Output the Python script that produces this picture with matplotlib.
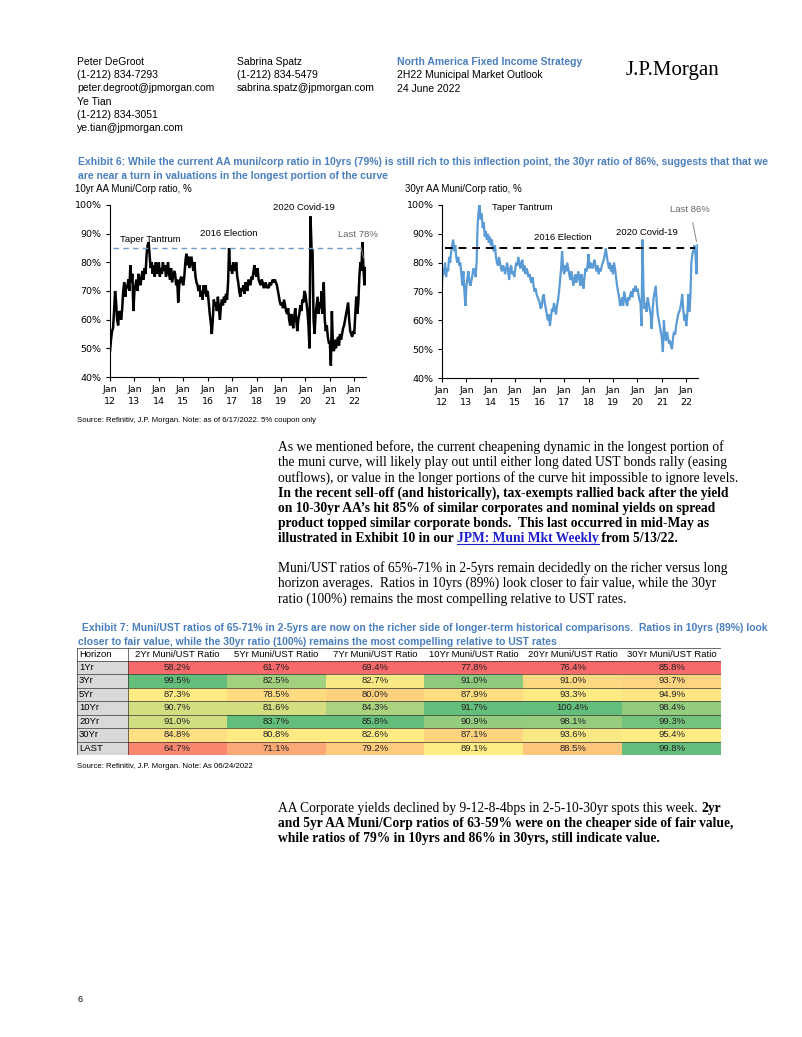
import numpy as np
import matplotlib
matplotlib.use('Agg')
import matplotlib.pyplot as plt
from matplotlib.colors import LinearSegmentedColormap, TwoSlopeNorm
from matplotlib.patches import Rectangle

W, H = 802, 1037

# ---- Exhibit 6 data (semi-monthly readings, Jan 2012 - Jun 2022) ----
ten_yr = [
    49, 53, 56, 57, 63, 70, 66, 60, 58, 63, 62, 60, 64, 70, 73, 68, 72, 71, 74, 70, 79, 73, 76, 63,
    70, 72, 74, 70, 76, 73, 72, 75, 77, 74, 78, 76, 83, 86, 87, 82, 78, 80, 76, 79, 75, 80, 77, 76,
    80, 75, 78, 76, 80, 77, 79, 75, 77, 80, 76, 74, 78, 73, 75, 77, 76, 72, 74, 66, 72, 74, 75, 73,
    72, 75, 80, 83, 79, 82, 78, 80, 82, 79, 77, 80, 75, 73, 72, 70, 72, 68, 70, 67, 72, 69, 72, 68,
    70, 66, 62, 59, 55, 60, 67, 65, 66, 63, 68, 64, 60, 65, 67, 65, 68, 66, 69, 67, 73, 85, 77, 79,
    76, 80, 78, 77, 80, 75, 73, 70, 68, 71, 70, 72, 69, 73, 72, 70, 74, 73, 72, 75, 74, 77, 79, 76,
    75, 78, 74, 73, 72, 74, 73, 71, 72, 73, 71, 72, 71, 73, 72, 73, 74, 73, 74, 73, 72, 70, 68, 66,
    65, 66, 64, 67, 65, 63, 62, 64, 60, 58, 62, 60, 57, 61, 64, 60, 56, 60, 62, 65, 63, 67, 66, 70,
    69, 66, 63, 58, 50, 96, 85, 84, 60, 55, 62, 65, 68, 62, 66, 64, 70, 62, 73, 60, 56, 58, 54, 52,
    52, 44, 63, 51, 49, 53, 50, 52, 54, 51, 55, 53, 55, 57, 58, 60, 62, 64, 66, 60, 56, 55, 54, 56,
    55, 62, 68, 62, 66, 75, 80, 77, 87, 78, 72, 78,
]
thirty_yr = [
    73, 78, 76, 80, 75, 78, 77, 82, 80, 84, 86, 88, 84, 86, 82, 80, 82, 79, 80, 76, 72, 77, 70, 65,
    72, 75, 77, 73, 72, 74, 76, 78, 77, 75, 80, 93, 98, 100, 95, 97, 92, 94, 89, 91, 88, 90, 87, 89,
    86, 88, 85, 84, 86, 82, 80, 79, 82, 80, 78, 77, 79, 78, 76, 78, 80, 77, 74, 78, 79, 76, 77, 75,
    78, 80, 79, 82, 80, 78, 80, 81, 77, 79, 76, 78, 77, 75, 76, 74, 73, 75, 72, 70, 71, 69, 68, 67,
    66, 64, 65, 68, 69, 66, 64, 62, 60, 62, 58, 61, 64, 63, 66, 64, 62, 65, 67, 70, 74, 78, 84, 78,
    76, 79, 77, 80, 78, 76, 74, 77, 75, 72, 74, 76, 73, 75, 77, 74, 72, 76, 74, 71, 75, 78, 77, 79,
    83, 78, 80, 79, 78, 80, 81, 78, 77, 79, 76, 78, 77, 79, 80, 81, 83, 85, 82, 80, 78, 80, 77, 79,
    76, 80, 78, 75, 72, 70, 68, 65, 66, 68, 65, 70, 68, 66, 65, 68, 67, 69, 70, 68, 71, 70, 72, 70,
    71, 69, 67, 66, 58, 88, 70, 64, 66, 63, 68, 66, 64, 62, 57, 64, 68, 70, 72, 66, 62, 60, 58, 56,
    54, 49, 60, 55, 53, 56, 54, 52, 53, 51, 50, 54, 56, 55, 58, 60, 62, 63, 64, 66, 69, 64, 60, 62,
    58, 62, 69, 63, 68, 80, 83, 84, 86, 83, 76, 86,
]
tick_years = list(range(2012, 2023))
tick_labels = ['Jan\n%02d' % (y % 100) for y in tick_years]
inflection = 85

# ---- Exhibit 7 data ----
horizons = ['1Yr', '3Yr', '5Yr', '10Yr', '20Yr', '30Yr', 'LAST']
col_names = ['2Yr Muni/UST Ratio', '5Yr Muni/UST Ratio', '7Yr Muni/UST Ratio',
             '10Yr Muni/UST Ratio', '20Yr Muni/UST Ratio', '30Yr Muni/UST Ratio']
r2 = [58.2, 99.5, 87.3, 90.7, 91.0, 84.8, 64.7]
r5 = [61.7, 82.5, 78.5, 81.6, 83.7, 80.8, 71.1]
r7 = [69.4, 82.7, 80.0, 84.3, 85.8, 82.6, 79.2]
r10 = [77.8, 91.0, 87.9, 91.7, 90.9, 87.1, 89.1]
r20 = [76.4, 91.0, 93.3, 100.4, 98.1, 93.6, 88.5]
r30 = [85.8, 93.7, 94.9, 98.4, 99.3, 95.4, 99.8]

BLUE = '#4a7fbf'
SANS = ['Liberation Sans Narrow', 'Liberation Sans']
ARIAL = ['Liberation Sans']
SERIF = ['Liberation Serif']
BODY = 9.75

fig = plt.figure(figsize=(W / 100, H / 100), dpi=100)
fig.patch.set_facecolor('white')
renderer = fig.canvas.get_renderer()


def T(x, y, s, size=7.5, family=ARIAL, **kw):
    return fig.text(x / W, 1 - y / H, s, fontsize=size, family=family, va='center', **kw)


def line_runs(x, y, parts, size=BODY):
    # parts: (text, bold, color, underline)
    for s, bold, color, ul in parts:
        t = fig.text(x / W, 1 - y / H, s, fontsize=size, family=SERIF, va='baseline',
                     fontweight='bold' if bold else 'normal', color=color)
        w = t.get_window_extent(renderer).width
        if ul:
            fig.add_artist(plt.Line2D([x / W, (x + w) / W], [1 - (y + 2) / H] * 2,
                                      color=color, lw=0.8))
        x += w


# ---- header ----
T(77, 62, 'Peter DeGroot')
T(77, 75, '(1-212) 834-7293')
T(77, 88, 'peter.degroot@jpmorgan.com')
T(77, 102, 'Ye Tian')
T(77, 115, '(1-212) 834-3051')
T(77, 128, 'ye.tian@jpmorgan.com')
T(237, 62, 'Sabrina Spatz')
T(237, 75, '(1-212) 834-5479')
T(237, 88, 'sabrina.spatz@jpmorgan.com')
T(397, 62, 'North America Fixed Income Strategy', color=BLUE, fontweight='bold')
T(397, 75, '2H22 Municipal Market Outlook')
T(397, 89, '24 June 2022')
T(626, 71, 'J.P.Morgan', size=15, family=SERIF)

# ---- Exhibit 6 ----
T(78, 162, 'Exhibit 6: While the current AA muni/corp ratio in 10yrs (79%) is still rich to this '
           'inflection point, the 30yr ratio of 86%, suggests that that we',
  size=7.5, family=SANS, color=BLUE, fontweight='bold')
T(78, 176, 'are near a turn in valuations in the longest portion of the curve',
  size=7.5, family=SANS, color=BLUE, fontweight='bold')
T(75, 189, '10yr AA Muni/Corp ratio, %', size=7, family=SANS)
T(405, 189, '30yr AA Muni/Corp ratio, %', size=7, family=SANS)

x_dates = 2012 + np.arange(len(ten_yr)) / 24.0


def chart(rect, vals, color, lw, dash_color, dash_lw, notes, last_note):
    ax = fig.add_axes(rect)
    ax.plot(x_dates[:len(vals)], vals, color=color, lw=lw, solid_joinstyle='miter')
    ax.axhline(inflection, xmin=0.01, xmax=0.99, color=dash_color, lw=dash_lw, ls=(0, (4, 3)))
    ax.set_xlim(2012, 2022.48)
    ax.set_ylim(40, 100)
    ax.set_yticks(range(40, 101, 10))
    ax.set_yticklabels(['%d%%' % v for v in range(40, 101, 10)])
    ax.set_xticks(tick_years)
    ax.set_xticklabels(tick_labels, linespacing=1.45)
    for s in ['top', 'right']:
        ax.spines[s].set_visible(False)
    for s in ['left', 'bottom']:
        ax.spines[s].set_linewidth(0.8)
    ax.tick_params(axis='both', labelsize=6.8, length=3, width=0.8, pad=3)
    ax.patch.set_alpha(0)
    for txt, xx, yy in notes:
        ax.text(xx, yy, txt, ha='center', va='center', fontsize=6.8, family=ARIAL)
    txt, xy, xytext = last_note
    ax.annotate(txt, xy=xy, xytext=xytext, ha='center', va='center', fontsize=6.8,
                color='#666666', family=ARIAL,
                arrowprops=dict(arrowstyle='-', color='#888888', lw=0.7, shrinkA=4, shrinkB=0))
    return ax


chart([110 / W, 1 - 377 / H, 256 / W, 172 / H], ten_yr, 'black', 1.8, '#6f9cc9', 1.0,
      [('Taper Tantrum', 2013.64, 87.8), ('2016 Election', 2016.88, 90.2),
       ('2020 Covid-19', 2019.95, 99.0)],
      ('Last 78%', (2022.38, 81.5), (2022.16, 89.6)))
chart([442 / W, 1 - 378 / H, 256 / W, 173 / H], thirty_yr, '#5b9bd5', 1.6, 'black', 1.4,
      [('Taper Tantrum', 2015.27, 99.0), ('2016 Election', 2016.94, 88.9),
       ('2020 Covid-19', 2020.41, 90.6)],
      ('Last 86%', (2022.42, 87.3), (2022.16, 98.3)))

T(77, 420, 'Source: Refinitiv, J.P. Morgan. Note: as of 6/17/2022. 5% coupon only', size=5.6,
  family=SANS)

# ---- body paragraph 1 ----
K = 'black'
para1 = [
    [('As we mentioned before, the current cheapening dynamic in the longest portion of', 0, K, 0)],
    [('the muni curve, will likely play out until either long dated UST bonds rally (easing', 0, K, 0)],
    [('outflows), or value in the longer portions of the curve hit impossible to ignore levels.', 0, K, 0)],
    [('In the recent sell-off (and historically), tax-exempts rallied back after the yield', 1, K, 0)],
    [('on 10-30yr AA\u2019s hit 85% of similar corporates and nominal yields on spread', 1, K, 0)],
    [('product topped similar corporate bonds.  This last occurred in mid-May as', 1, K, 0)],
    [('illustrated in Exhibit 10 in our ', 1, K, 0), ('JPM: Muni Mkt Weekly', 1, '#1f1fd0', 1),
     (' from 5/13/22.', 1, K, 0)],
]
for i, parts in enumerate(para1):
    line_runs(278, 451 + i * 15.2, parts)

para2 = [
    'Muni/UST ratios of 65%-71% in 2-5yrs remain decidedly on the richer versus long',
    'horizon averages.  Ratios in 10yrs (89%) look closer to fair value, while the 30yr',
    'ratio (100%) remains the most compelling relative to UST rates.',
]
for i, s in enumerate(para2):
    line_runs(278, 572 + i * 15.2, [(s, 0, K, 0)])

# ---- Exhibit 7 ----
T(79, 628, ' Exhibit 7: Muni/UST ratios of 65-71% in 2-5yrs are now on the richer side of '
           'longer-term historical comparisons.  Ratios in 10yrs (89%) look',
  size=7.5, family=SANS, color=BLUE, fontweight='bold')
T(78, 642, 'closer to fair value, while the 30yr ratio (100%) remains the most compelling '
           'relative to UST rates', size=7.5, family=SANS, color=BLUE, fontweight='bold')

cols = [r2, r5, r7, r10, r20, r30]
cmap = LinearSegmentedColormap.from_list('xl', ['#f8696b', '#ffeb84', '#63be7b'])
tab_l, tab_r, tab_t, tab_b = 77, 721, 648, 755
tax = fig.add_axes([tab_l / W, 1 - tab_b / H, (tab_r - tab_l) / W, (tab_b - tab_t) / H])
tax.set_xlim(tab_l, tab_r)
tax.set_ylim(tab_b, tab_t)
tax.axis('off')
hdr_h = 12.5
row_h = (tab_b - tab_t - hdr_h) / len(horizons)
first_w = 51
col_w = (tab_r - tab_l - first_w) / len(cols)
edges = [tab_l + first_w + j * col_w for j in range(len(cols) + 1)]
# header
tax.text(tab_l + 2, tab_t + hdr_h / 2, 'Horizon', va='center', ha='left', fontsize=6.8, family=ARIAL)
for j, name in enumerate(col_names):
    tax.text(edges[j] + col_w / 2, tab_t + hdr_h / 2, name, va='center', ha='center',
             fontsize=6.8, family=ARIAL)
for i, hname in enumerate(horizons):
    y0 = tab_t + hdr_h + i * row_h
    tax.add_patch(Rectangle((tab_l, y0), first_w, row_h, facecolor='#d9d9d9', edgecolor='none'))
    tax.text(tab_l + 2, y0 + row_h / 2, hname, va='center', ha='left', fontsize=6.8, family=ARIAL)
for j, vals in enumerate(cols):
    norm = TwoSlopeNorm(vcenter=float(np.median(vals)), vmin=min(vals), vmax=max(vals))
    for i, v in enumerate(vals):
        y0 = tab_t + hdr_h + i * row_h
        tax.add_patch(Rectangle((edges[j], y0), col_w, row_h, facecolor=cmap(norm(v)),
                                edgecolor='none'))
        tax.text(edges[j] + col_w / 2, y0 + row_h / 2, '%.1f%%' % v, va='center', ha='center',
                 fontsize=6.8, family=ARIAL, color='#222222')
# grid
for k in range(len(horizons) + 2):
    yy = tab_t if k == 0 else tab_t + hdr_h + (k - 1) * row_h
    tax.plot([tab_l, tab_r], [yy, yy], color='#333333', lw=0.5)
for xx in [tab_l, tab_l + first_w, tab_r]:
    tax.plot([xx, xx], [tab_t, tab_b], color='#333333', lw=0.5)

T(77, 767, 'Source: Refinitiv, J.P. Morgan. Note: As 06/24/2022', size=5.6, family=SANS)

# ---- body paragraph 3 ----
para3 = [
    [('AA Corporate yields declined by 9-12-8-4bps in 2-5-10-30yr spots this week. ', 0, K, 0),
     ('2yr', 1, K, 0)],
    [('and 5yr AA Muni/Corp ratios of 63-59% were on the cheaper side of fair value,', 1, K, 0)],
    [('while ratios of 79% in 10yrs and 86% in 30yrs, still indicate value.', 1, K, 0)],
]
for i, parts in enumerate(para3):
    line_runs(278, 812 + i * 15.2, parts)

T(77, 1000, '6', size=6.5)

fig.savefig('out.png', dpi=100, facecolor='white')
